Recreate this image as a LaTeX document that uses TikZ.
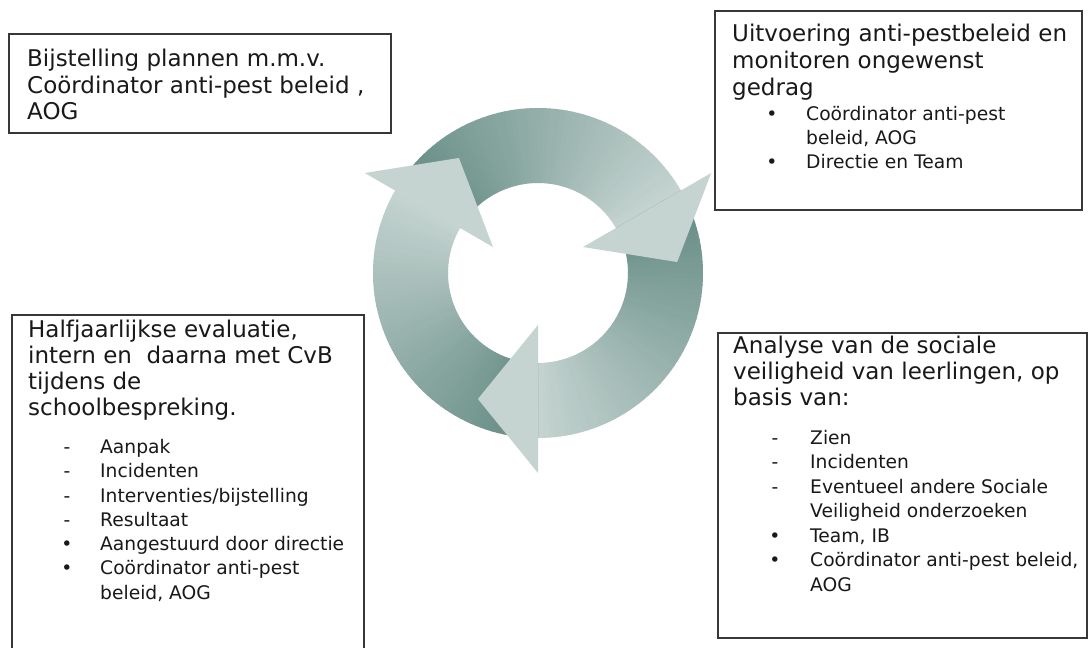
\documentclass[tikz,border=0pt]{standalone}
\usepackage{fontspec}
\setmainfont{DejaVu Sans}
\definecolor{ringdark}{RGB}{100,139,131}
\definecolor{ringlight}{RGB}{196,211,208}
\definecolor{headcol}{RGB}{198,212,209}
\definecolor{boxline}{RGB}{55,55,55}
\definecolor{txt}{RGB}{25,25,25}
\begin{document}
\begin{tikzpicture}[x=1pt,y=-1pt,
  panel/.style={draw=boxline, line width=1.3pt},
  headtxt/.style={anchor=base west, inner sep=0pt, font=\fontsize{23}{26}\selectfont, text=txt},
  subtxt/.style={anchor=base west, inner sep=0pt, font=\fontsize{18.7}{24}\selectfont, text=txt},
  listmark/.style={anchor=base, inner sep=0pt, font=\fontsize{18.7}{24}\selectfont, text=txt}]
\clip (0,0) rectangle (1088,648);
\fill[white] (0,0) rectangle (1088,648);

% ---- circular arrows ----
\begin{scope}[shift={(538,273)}, yscale=-1]
  \foreach \h in {30,-90,150} {
    \foreach \i in {0,...,59} {
      \pgfmathsetmacro{\aone}{\h+120-2*\i}
      \pgfmathsetmacro{\atwo}{\h+120-2*\i-2.4}
      \pgfmathtruncatemacro{\p}{100*\i/59}
      \fill[ringlight!\p!ringdark] (\aone:90) -- (\aone:165)
        arc[start angle=\aone, end angle=\atwo, radius=165] -- (\atwo:90)
        arc[start angle=\atwo, end angle=\aone, radius=90] -- cycle;
    }
  }
  \foreach \h in {30,-90,150} {
    \fill[headcol] (\h:52) -- (\h:200) -- ({\h-25.5}:139.6) -- cycle;
  }
\end{scope}

% ---- boxes ----
\draw[panel] (9,34) rectangle (391,133);
\draw[panel] (715,11) rectangle (1082,210);
\draw[panel] (12,315) rectangle (364,700);
\draw[panel] (718,333) rectangle (1087,638);

% ---- box 1 ----
\node[headtxt] (b1a) at (27,66.5) {Bijstelling plannen m.m.v.};
\node[headtxt] (b1b) at (27,93) {Coördinator anti-pest beleid ,};
\node[headtxt] (b1c) at (27,119.5) {AOG};

% ---- box 2 ----
\node[headtxt] (b2a) at (732,41.5) {Uitvoering anti-pestbeleid en};
\node[headtxt] (b2b) at (732,68.5) {monitoren ongewenst};
\node[headtxt] (b2c) at (732,95) {gedrag};
\node[listmark] (b2m1) at (772,120) {•};
\node[subtxt] (b2d) at (806,120) {Coördinator anti-pest};
\node[subtxt] (b2e) at (806,144.5) {beleid, AOG};
\node[listmark] (b2m2) at (772,168.5) {•};
\node[subtxt] (b2f) at (806,168.5) {Directie en Team};

% ---- box 3 ----
\node[headtxt] (b3a) at (28,337.5) {Halfjaarlijkse evaluatie,};
\node[headtxt] (b3b) at (28,363.5) {intern en\ \ daarna met CvB};
\node[headtxt] (b3c) at (28,389.5) {tijdens de};
\node[headtxt] (b3d) at (28,415.5) {schoolbespreking.};
\node[listmark] (b3m1) at (67,453.5) {-};
\node[subtxt] (b3e) at (100,453.5) {Aanpak};
\node[listmark] (b3m2) at (67,477.8) {-};
\node[subtxt] (b3f) at (100,477.8) {Incidenten};
\node[listmark] (b3m3) at (67,502) {-};
\node[subtxt] (b3g) at (100,502) {Interventies/bijstelling};
\node[listmark] (b3m4) at (67,526.3) {-};
\node[subtxt] (b3h) at (100,526.3) {Resultaat};
\node[listmark] (b3m5) at (67,550.6) {•};
\node[subtxt] (b3i) at (100,550.6) {Aangestuurd door directie};
\node[listmark] (b3m6) at (67,574.9) {•};
\node[subtxt] (b3j) at (100,574.9) {Coördinator anti-pest};
\node[subtxt] (b3k) at (100,599) {beleid, AOG};

% ---- box 4 ----
\node[headtxt] (b4a) at (733,353.5) {Analyse van de sociale};
\node[headtxt] (b4b) at (733,379.3) {veiligheid van leerlingen, op};
\node[headtxt] (b4c) at (733,405) {basis van:};
\node[listmark] (b4m1) at (775,444) {-};
\node[subtxt] (b4d) at (810,444) {Zien};
\node[listmark] (b4m2) at (775,468.5) {-};
\node[subtxt] (b4e) at (810,468.5) {Incidenten};
\node[listmark] (b4m3) at (775,493) {-};
\node[subtxt] (b4f) at (810,493) {Eventueel andere Sociale};
\node[subtxt] (b4g) at (810,517.5) {Veiligheid onderzoeken};
\node[listmark] (b4m4) at (775,542) {•};
\node[subtxt] (b4h) at (810,542) {Team, IB};
\node[listmark] (b4m5) at (775,566.5) {•};
\node[subtxt] (b4i) at (810,566.5) {Coördinator anti-pest beleid,};
\node[subtxt] (b4j) at (810,591) {AOG};
\end{tikzpicture}
\end{document}
